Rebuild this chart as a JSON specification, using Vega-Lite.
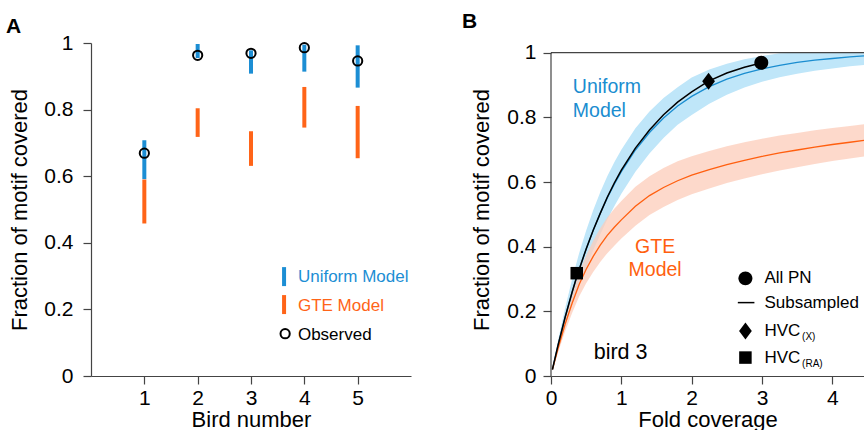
{
  "$schema": "https://vega.github.io/schema/vega-lite/v6.json",
  "padding": {"left": 6, "top": 10, "right": 0, "bottom": 0},
  "background": "white",
  "config": {
    "font": "Liberation Sans",
    "view": {"stroke": null},
    "axis": {
      "labelFont": "Liberation Sans", "titleFont": "Liberation Sans",
      "labelFontSize": 21, "titleFontSize": 22, "titleFontWeight": "normal",
      "labelColor": "#000", "titleColor": "#000",
      "domainColor": "#444", "tickColor": "#444", "domainWidth": 1.2, "tickWidth": 1.2,
      "tickSize": 8, "grid": false, "labelFlush": false
    },
    "title": {"font": "Liberation Sans", "fontSize": 21, "fontWeight": "bold", "anchor": "start", "frame": "group", "color": "#000"}
  },
  "spacing": 51,
  "hconcat": [
    {
      "width": 320, "height": 333,
      "title": {"text": "A", "dx": -85, "offset": -5},
      "layer": [
        {
          "data": {"values": [
            {"bird": 1, "model": "Uniform Model", "lo": 0.591, "hi": 0.708},
            {"bird": 1, "model": "GTE Model", "lo": 0.458, "hi": 0.59},
            {"bird": 2, "model": "Uniform Model", "lo": 0.955, "hi": 0.997},
            {"bird": 2, "model": "GTE Model", "lo": 0.718, "hi": 0.804},
            {"bird": 3, "model": "Uniform Model", "lo": 0.908, "hi": 0.978},
            {"bird": 3, "model": "GTE Model", "lo": 0.631, "hi": 0.735},
            {"bird": 4, "model": "Uniform Model", "lo": 0.914, "hi": 0.995},
            {"bird": 4, "model": "GTE Model", "lo": 0.746, "hi": 0.868},
            {"bird": 5, "model": "Uniform Model", "lo": 0.866, "hi": 0.993},
            {"bird": 5, "model": "GTE Model", "lo": 0.654, "hi": 0.811}
          ]},
          "mark": {"type": "rule", "strokeWidth": 4},
          "encoding": {
            "x": {"field": "bird", "type": "quantitative", "scale": {"domain": [0, 6], "nice": false}, "axis": {"values": [1, 2, 3, 4, 5], "title": "Bird number", "labelPadding": 3, "titlePadding": 1}},
            "y": {"field": "lo", "type": "quantitative", "scale": {"domain": [0, 1], "nice": false}, "axis": {"values": [0, 0.2, 0.4, 0.6, 0.8, 1], "format": "~g", "title": "Fraction of motif covered", "labelPadding": 10, "titlePadding": 12}},
            "y2": {"field": "hi"},
            "color": {"field": "model", "type": "nominal", "scale": {"domain": ["Uniform Model", "GTE Model"], "range": ["#1c8ed4", "#ff6418"]}, "legend": null}
          }
        },
        {
          "data": {"values": [
            {"bird": 1, "observed": 0.669},
            {"bird": 2, "observed": 0.963},
            {"bird": 3, "observed": 0.969},
            {"bird": 4, "observed": 0.986},
            {"bird": 5, "observed": 0.946}
          ]},
          "mark": {"type": "point", "shape": "circle", "filled": false, "stroke": "#000", "strokeWidth": 2, "size": 85, "opacity": 1},
          "encoding": {
            "x": {"field": "bird", "type": "quantitative"},
            "y": {"field": "observed", "type": "quantitative"}
          }
        },
        {
          "data": {"values": [{}]},
          "mark": {"type": "rule", "strokeWidth": 4, "color": "#1c8ed4"},
          "encoding": {"x": {"datum": 3.62}, "y": {"datum": 0.27}, "y2": {"datum": 0.327}}
        },
        {
          "data": {"values": [{}]},
          "mark": {"type": "rule", "strokeWidth": 4, "color": "#ff6418"},
          "encoding": {"x": {"datum": 3.62}, "y": {"datum": 0.186}, "y2": {"datum": 0.243}}
        },
        {
          "data": {"values": [{}]},
          "mark": {"type": "point", "shape": "circle", "filled": false, "stroke": "#000", "strokeWidth": 2, "size": 85, "opacity": 1},
          "encoding": {"x": {"datum": 3.64}, "y": {"datum": 0.127}}
        },
        {
          "data": {"values": [{}]},
          "mark": {"type": "text", "align": "left", "baseline": "middle", "fontSize": 17, "color": "#1c8ed4"},
          "encoding": {"x": {"datum": 3.88}, "y": {"datum": 0.297}, "text": {"value": "Uniform Model"}}
        },
        {
          "data": {"values": [{}]},
          "mark": {"type": "text", "align": "left", "baseline": "middle", "fontSize": 17, "color": "#ff6418"},
          "encoding": {"x": {"datum": 3.88}, "y": {"datum": 0.21}, "text": {"value": "GTE Model"}}
        },
        {
          "data": {"values": [{}]},
          "mark": {"type": "text", "align": "left", "baseline": "middle", "fontSize": 17, "color": "#000"},
          "encoding": {"x": {"datum": 3.88}, "y": {"datum": 0.123}, "text": {"value": "Observed"}}
        }
      ]
    },
    {
      "width": 313, "height": 333,
      "title": {"text": "B", "dx": -89, "offset": 10},
      "layer": [
        {
          "data": {"name": "curves", "values": [
            {"x": 0.02, "u": 0.02, "ulo": 0.016, "uhi": 0.024, "g": 0.02, "glo": 0.016, "ghi": 0.024},
            {"x": 0.1, "u": 0.095, "ulo": 0.08, "uhi": 0.11, "g": 0.085, "glo": 0.073, "ghi": 0.097},
            {"x": 0.2, "u": 0.181, "ulo": 0.153, "uhi": 0.209, "g": 0.16, "glo": 0.138, "ghi": 0.182},
            {"x": 0.3, "u": 0.259, "ulo": 0.219, "uhi": 0.299, "g": 0.225, "glo": 0.195, "ghi": 0.255},
            {"x": 0.4, "u": 0.33, "ulo": 0.28, "uhi": 0.38, "g": 0.283, "glo": 0.246, "ghi": 0.32},
            {"x": 0.5, "u": 0.393, "ulo": 0.336, "uhi": 0.45, "g": 0.33, "glo": 0.287, "ghi": 0.373},
            {"x": 0.6, "u": 0.451, "ulo": 0.389, "uhi": 0.513, "g": 0.37, "glo": 0.322, "ghi": 0.418},
            {"x": 0.7, "u": 0.503, "ulo": 0.438, "uhi": 0.568, "g": 0.405, "glo": 0.353, "ghi": 0.457},
            {"x": 0.8, "u": 0.551, "ulo": 0.484, "uhi": 0.618, "g": 0.435, "glo": 0.38, "ghi": 0.49},
            {"x": 0.9, "u": 0.593, "ulo": 0.525, "uhi": 0.661, "g": 0.46, "glo": 0.403, "ghi": 0.517},
            {"x": 1.0, "u": 0.632, "ulo": 0.564, "uhi": 0.7, "g": 0.483, "glo": 0.425, "ghi": 0.541},
            {"x": 1.2, "u": 0.699, "ulo": 0.632, "uhi": 0.766, "g": 0.525, "glo": 0.465, "ghi": 0.585},
            {"x": 1.4, "u": 0.753, "ulo": 0.688, "uhi": 0.818, "g": 0.558, "glo": 0.498, "ghi": 0.618},
            {"x": 1.6, "u": 0.798, "ulo": 0.736, "uhi": 0.86, "g": 0.583, "glo": 0.523, "ghi": 0.643},
            {"x": 1.8, "u": 0.835, "ulo": 0.777, "uhi": 0.893, "g": 0.604, "glo": 0.544, "ghi": 0.664},
            {"x": 2.0, "u": 0.865, "ulo": 0.807, "uhi": 0.923, "g": 0.621, "glo": 0.562, "ghi": 0.68},
            {"x": 2.25, "u": 0.895, "ulo": 0.842, "uhi": 0.948, "g": 0.638, "glo": 0.58, "ghi": 0.696},
            {"x": 2.5, "u": 0.918, "ulo": 0.87, "uhi": 0.966, "g": 0.654, "glo": 0.597, "ghi": 0.711},
            {"x": 2.75, "u": 0.936, "ulo": 0.892, "uhi": 0.98, "g": 0.667, "glo": 0.611, "ghi": 0.723},
            {"x": 3.0, "u": 0.95, "ulo": 0.91, "uhi": 0.99, "g": 0.679, "glo": 0.624, "ghi": 0.734},
            {"x": 3.25, "u": 0.961, "ulo": 0.924, "uhi": 0.998, "g": 0.69, "glo": 0.636, "ghi": 0.744},
            {"x": 3.5, "u": 0.97, "ulo": 0.935, "uhi": 1.0, "g": 0.699, "glo": 0.646, "ghi": 0.752},
            {"x": 3.75, "u": 0.977, "ulo": 0.944, "uhi": 1.0, "g": 0.708, "glo": 0.656, "ghi": 0.76},
            {"x": 4.0, "u": 0.982, "ulo": 0.951, "uhi": 1.0, "g": 0.716, "glo": 0.665, "ghi": 0.767},
            {"x": 4.25, "u": 0.987, "ulo": 0.958, "uhi": 1.0, "g": 0.723, "glo": 0.673, "ghi": 0.773},
            {"x": 4.45, "u": 0.99, "ulo": 0.962, "uhi": 1.0, "g": 0.729, "glo": 0.679, "ghi": 0.779}
          ]},
          "mark": {"type": "area", "color": "#bfe6f9", "opacity": 1},
          "encoding": {
            "x": {"field": "x", "type": "quantitative", "scale": {"domain": [0, 4.45], "nice": false}, "axis": {"values": [0, 1, 2, 3, 4], "format": "~g", "title": "Fold coverage", "labelPadding": 3, "titlePadding": 1}},
            "y": {"field": "ulo", "type": "quantitative", "scale": {"domain": [0, 1.03], "nice": false}, "axis": {"values": [0, 0.2, 0.4, 0.6, 0.8, 1], "format": "~g", "domain": false, "title": "Fraction of motif covered", "labelPadding": 7, "titlePadding": 13}},
            "y2": {"field": "uhi"}
          }
        },
        {
          "data": {"name": "curves"},
          "mark": {"type": "area", "color": "#fcccb9", "opacity": 0.75},
          "encoding": {"x": {"field": "x", "type": "quantitative"}, "y": {"field": "glo", "type": "quantitative"}, "y2": {"field": "ghi"}}
        },
        {
          "data": {"name": "curves"},
          "mark": {"type": "line", "color": "#1a8dd0", "strokeWidth": 1.3},
          "encoding": {"x": {"field": "x", "type": "quantitative"}, "y": {"field": "u", "type": "quantitative"}}
        },
        {
          "data": {"name": "curves"},
          "mark": {"type": "line", "color": "#ff5f0f", "strokeWidth": 1.3},
          "encoding": {"x": {"field": "x", "type": "quantitative"}, "y": {"field": "g", "type": "quantitative"}}
        },
        {
          "data": {"values": [
            {"x": 0.02, "y": 0.02}, {"x": 0.1, "y": 0.095}, {"x": 0.2, "y": 0.181}, {"x": 0.3, "y": 0.259},
            {"x": 0.37, "y": 0.31}, {"x": 0.5, "y": 0.393}, {"x": 0.6, "y": 0.451}, {"x": 0.7, "y": 0.503},
            {"x": 0.8, "y": 0.553}, {"x": 0.9, "y": 0.597}, {"x": 1.0, "y": 0.637}, {"x": 1.2, "y": 0.705},
            {"x": 1.4, "y": 0.761}, {"x": 1.6, "y": 0.808}, {"x": 1.8, "y": 0.847}, {"x": 2.0, "y": 0.879},
            {"x": 2.24, "y": 0.912}, {"x": 2.5, "y": 0.937}, {"x": 2.75, "y": 0.955}, {"x": 3.0, "y": 0.969}
          ]},
          "mark": {"type": "line", "color": "#000", "strokeWidth": 1.5},
          "encoding": {"x": {"field": "x", "type": "quantitative"}, "y": {"field": "y", "type": "quantitative"}}
        },
        {
          "data": {"values": [
            {"x": 0.366, "y": 0.318, "sample": "HVC(RA)"},
            {"x": 2.24, "y": 0.912, "sample": "HVC(X)"},
            {"x": 2.99, "y": 0.969, "sample": "All PN"}
          ]},
          "mark": {"type": "point", "filled": true, "color": "#000", "size": 289, "opacity": 1},
          "encoding": {
            "x": {"field": "x", "type": "quantitative"},
            "y": {"field": "y", "type": "quantitative"},
            "shape": {"field": "sample", "type": "nominal", "scale": {"domain": ["All PN", "HVC(X)", "HVC(RA)"], "range": ["M0.82,0A0.82,0.82 0 1,1 -0.82,0A0.82,0.82 0 1,1 0.82,0Z", "M-0.75,0L0,-1L0.75,0L0,1Z", "M-0.735,-0.735H0.735V0.735H-0.735Z"]}, "legend": null}
          }
        },
        {
          "data": {"values": [{}]},
          "mark": {"type": "rule", "color": "#444", "strokeWidth": 1.2},
          "encoding": {"y": {"datum": 1}}
        },
        {
          "data": {"values": [{}]},
          "mark": {"type": "rule", "color": "#444", "strokeWidth": 1.2},
          "encoding": {"x": {"datum": 0}, "y": {"datum": 0}, "y2": {"datum": 1}}
        },
        {
          "data": {"values": [{}]},
          "mark": {"type": "text", "align": "left", "baseline": "alphabetic", "fontSize": 19.5, "lineHeight": 24, "color": "#1a8dd0"},
          "encoding": {"x": {"datum": 0.31}, "y": {"datum": 0.876}, "text": {"value": ["Uniform", "Model"]}}
        },
        {
          "data": {"values": [{}]},
          "mark": {"type": "text", "align": "center", "baseline": "alphabetic", "fontSize": 19.5, "lineHeight": 23.5, "color": "#ff5f0f"},
          "encoding": {"x": {"datum": 1.48}, "y": {"datum": 0.381}, "text": {"value": ["GTE", "Model"]}}
        },
        {
          "data": {"values": [{}]},
          "mark": {"type": "text", "align": "left", "baseline": "alphabetic", "fontSize": 21.5, "color": "#000"},
          "encoding": {"x": {"datum": 0.607}, "y": {"datum": 0.052}, "text": {"value": "bird 3"}}
        },
        {
          "data": {"values": [{}]},
          "mark": {"type": "point", "filled": true, "color": "#000", "size": 289, "opacity": 1, "shape": "M0.82,0A0.82,0.82 0 1,1 -0.82,0A0.82,0.82 0 1,1 0.82,0Z"},
          "encoding": {"x": {"datum": 2.764}, "y": {"datum": 0.302}}
        },
        {
          "data": {"values": [{}]},
          "mark": {"type": "rule", "color": "#000", "strokeWidth": 1.5},
          "encoding": {"x": {"datum": 2.656}, "x2": {"datum": 2.892}, "y": {"datum": 0.227}}
        },
        {
          "data": {"values": [{}]},
          "mark": {"type": "point", "filled": true, "color": "#000", "size": 289, "opacity": 1, "shape": "M-0.75,0L0,-1L0.75,0L0,1Z"},
          "encoding": {"x": {"datum": 2.764}, "y": {"datum": 0.139}}
        },
        {
          "data": {"values": [{}]},
          "mark": {"type": "point", "filled": true, "color": "#000", "size": 289, "opacity": 1, "shape": "M-0.735,-0.735H0.735V0.735H-0.735Z"},
          "encoding": {"x": {"datum": 2.764}, "y": {"datum": 0.057}}
        },
        {
          "data": {"values": [{}]},
          "mark": {"type": "text", "align": "left", "baseline": "middle", "fontSize": 17, "color": "#000"},
          "encoding": {"x": {"datum": 3.034}, "y": {"datum": 0.302}, "text": {"value": "All PN"}}
        },
        {
          "data": {"values": [{}]},
          "mark": {"type": "text", "align": "left", "baseline": "middle", "fontSize": 17, "color": "#000"},
          "encoding": {"x": {"datum": 3.034}, "y": {"datum": 0.227}, "text": {"value": "Subsampled"}}
        },
        {
          "data": {"values": [{}]},
          "mark": {"type": "text", "align": "left", "baseline": "middle", "fontSize": 17, "color": "#000"},
          "encoding": {"x": {"datum": 3.034}, "y": {"datum": 0.139}, "text": {"value": "HVC"}}
        },
        {
          "data": {"values": [{}]},
          "mark": {"type": "text", "align": "left", "baseline": "middle", "fontSize": 17, "color": "#000"},
          "encoding": {"x": {"datum": 3.034}, "y": {"datum": 0.055}, "text": {"value": "HVC"}}
        },
        {
          "data": {"values": [{}]},
          "mark": {"type": "text", "align": "left", "baseline": "middle", "fontSize": 10, "color": "#000"},
          "encoding": {"x": {"datum": 3.57}, "y": {"datum": 0.12}, "text": {"value": "(X)"}}
        },
        {
          "data": {"values": [{}]},
          "mark": {"type": "text", "align": "left", "baseline": "middle", "fontSize": 10, "color": "#000"},
          "encoding": {"x": {"datum": 3.57}, "y": {"datum": 0.037}, "text": {"value": "(RA)"}}
        }
      ]
    }
  ]
}
